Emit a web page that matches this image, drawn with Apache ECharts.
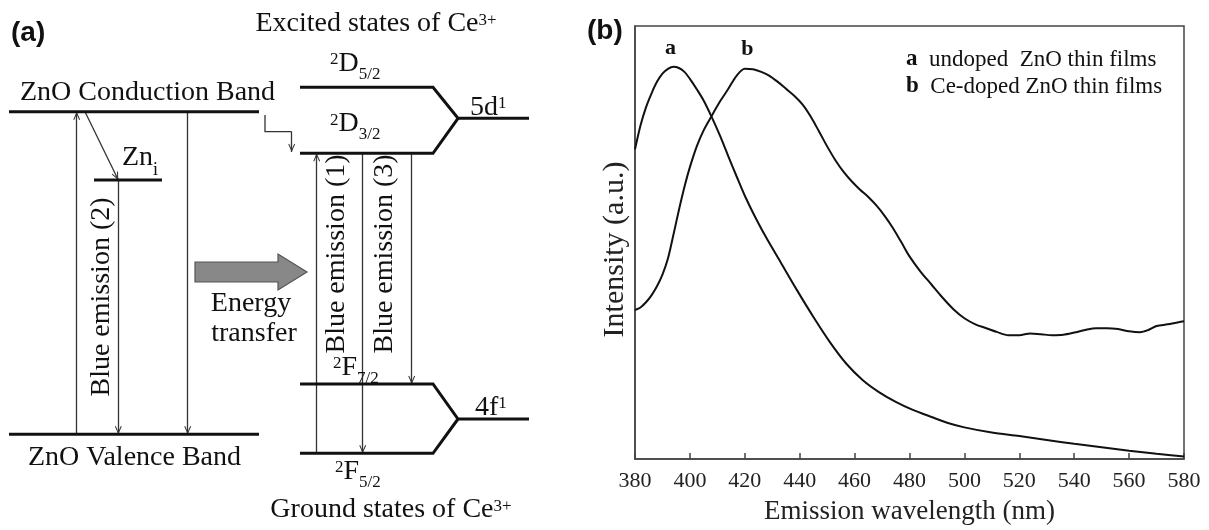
<!DOCTYPE html>
<html>
<head>
<meta charset="utf-8">
<script src="https://cdn.jsdelivr.net/npm/echarts@6/dist/echarts.min.js"></script>
<style>
html,body{margin:0;padding:0;background:#fff;}
#chart{width:1209px;height:530px;}
</style>
</head>
<body>
<div id="chart"></div>
<script>
// ---------------- Panel (b): PL spectra ----------------
const xTickValues = [380, 400, 420, 440, 460, 480, 500, 520, 540, 560, 580];
const seriesNames = ['a', 'b'];
const legendDescriptions = ['undoped  ZnO thin films', 'Ce-doped ZnO thin films'];

// a: undoped ZnO thin films  [wavelength nm, intensity a.u.]
const undopedZnO = [
  [380,71.5],[382,77.0],[384,81.2],[386,84.4],[388,87.1],[390,89.0],[392,90.1],[394,90.6],
  [396,90.3],[398,89.4],[400,87.8],[402.5,85.4],[405,82.8],[408,78.9],[411,74.6],[414,69.9],
  [417,65.3],[420,60.8],[424,55.6],[428,50.9],[433,45.5],[439,39.0],[445,32.8],[451,27.0],
  [457,22.0],[463,18.2],[469,15.4],[475,13.2],[481,11.4],[488,9.7],[494,8.3],[500,7.3],
  [510,6.1],[520,5.3],[530,4.4],[540,3.5],[550,2.7],[560,1.9],[570,1.2],[580,0.6]
];
// b: Ce-doped ZnO thin films
const ceDopedZnO = [
  [380,34.4],[382,35.0],[384,36.2],[386,37.8],[388,39.9],[390,42.6],[392,46.3],[394,51.8],
  [396,57.5],[398,62.8],[400,67.4],[402.5,72.2],[405,75.9],[408,79.3],[411,82.6],[414,85.5],
  [417,88.5],[420,90.1],[423,90.0],[426,89.4],[429,88.5],[432,87.1],[435,85.5],[438,83.9],
  [441,81.9],[444,79.1],[447,75.7],[450,72.2],[453,69.0],[456,66.3],[459,64.1],[462,62.2],
  [465,60.5],[468,58.5],[471,56.1],[474,53.3],[477,50.1],[480,46.8],[484,43.3],[488,40.3],
  [492,37.3],[496,34.6],[500,32.5],[504,31.1],[508,30.2],[512,29.3],[516,28.6],[520,28.6],
  [524,29.0],[528,28.8],[532,28.6],[536,28.7],[540,29.2],[544,29.8],[548,30.2],[552,30.2],
  [556,30.0],[560,29.5],[564,29.3],[567,29.8],[570,30.7],[574,31.1],[578,31.6],[580,31.8]
];
const peakA = [394, 90.6];
const peakB = [420, 90.1];

// ---------------- Panel (a): energy-level diagram (diagram units) ----------------
const energyLevels = [
  [[9,111.7],[259,111.7]],                               // ZnO conduction band
  [[9,434.3],[259,434.3]],                               // ZnO valence band
  [[94,180],[162,180]],                                  // Zn_i
  [[300,87.3],[433,87.3],[458,118.3],[529,118.3]],       // 2D5/2 -> 5d1
  [[300,153.3],[433,153.3],[458,118.3]],                 // 2D3/2
  [[300,384],[433,384],[458,419],[529,419]],             // 2F7/2 -> 4f1
  [[300,453.3],[433,453.3],[458,419]]                    // 2F5/2
];
const transitions = [
  [[76.7,434.3],[76.7,111.7]],
  [[187.7,111.7],[187.7,434.3]],
  [[85,111.7],[118.3,180]],
  [[118.3,180],[118.3,434.3]],
  [[291.7,131.7],[291.7,152]],
  [[316.7,453.3],[316.7,153.3]],
  [[362.7,153.3],[362.7,453.3]],
  [[411.7,153.3],[411.7,384]]
];
const connectors = [
  [[265,115],[265,131.7],[291.7,131.7]]
];
const transferArrow = [[195,262],[278,262],[278,254],[307,272],[278,290],[278,282],[195,282]];

const SERIF = '"Liberation Serif","Times New Roman","DejaVu Serif",serif';
const SANS = '"Liberation Sans",Arial,sans-serif';
const INK = '#111';

// arrow-head path with the tip at the centre of its box
const ARROW = 'path://M0,0 L0.01,0 L0,0.01 Z M20,20 L19.99,20 L20,19.99 Z M10,10 L13.8,18.6 L12.8,19.2 L10,12.8 L7.2,19.2 L6.2,18.6 Z';

const rich = {
  m:   {fontSize: 28, fontFamily: SERIF, fill: INK, color: INK},
  sup: {fontSize: 17, fontFamily: SERIF, fill: INK, color: INK, padding: [0,0,7,0]},
  sub: {fontSize: 17, fontFamily: SERIF, fill: INK, color: INK, padding: [22,0,0,0]},
  subi:{fontSize: 18, fontFamily: SERIF, fill: INK, color: INK, padding: [24,0,0,0]}
};
function txt(x, y, text, opt) {
  opt = opt || {};
  return {
    type: 'text', x: x, y: y, rotation: opt.rotation || 0, z: 50,
    style: {
      text: text, rich: rich,
      fontSize: opt.fontSize || 28, fontFamily: opt.fontFamily || SERIF,
      fontWeight: opt.fontWeight || 'normal', fill: INK,
      align: opt.align || 'left', verticalAlign: 'middle',
      textAlign: opt.align || 'left', textVerticalAlign: 'middle'
    }
  };
}

const graphics = [
  txt(11, 33, '(a)', {fontFamily: SANS, fontWeight: 'bold', fontSize: 28}),
  txt(587, 31, '(b)', {fontFamily: SANS, fontWeight: 'bold', fontSize: 28}),
  txt(376, 24, '{m|Excited states of Ce}{sup|3+}', {align: 'center'}),
  txt(20, 92.7, 'ZnO Conduction Band'),
  txt(28, 458, 'ZnO Valence Band'),
  txt(122, 158, '{m|Zn}{subi|i}'),
  txt(102, 297, 'Blue emission (2)', {align: 'center', rotation: Math.PI / 2}),
  txt(251, 304, 'Energy', {align: 'center'}),
  txt(254, 334, 'transfer', {align: 'center'}),
  txt(330, 63.5, '{sup|2}{m|D}{sub|5/2}'),
  txt(330, 124, '{sup|2}{m|D}{sub|3/2}'),
  txt(470, 107.5, '{m|5d}{sup|1}'),
  txt(337, 254, 'Blue emission (1)', {align: 'center', rotation: Math.PI / 2}),
  txt(385, 254, 'Blue emission (3)', {align: 'center', rotation: Math.PI / 2}),
  txt(333, 367.5, '{sup|2}{m|F}{sub|7/2}'),
  txt(475, 407.5, '{m|4f}{sup|1}'),
  txt(335, 471.5, '{sup|2}{m|F}{sub|5/2}'),
  txt(391, 510, '{m|Ground states of Ce}{sup|3+}', {align: 'center'})
];

const chart = echarts.init(document.getElementById('chart'), null, {renderer: 'canvas'});

const peakLabel = (coord, name, offset) => ({
  symbol: 'circle', symbolSize: 1, silent: true,
  itemStyle: {color: 'rgba(0,0,0,0)'},
  label: {show: true, position: 'inside', offset: offset, formatter: name,
    fontFamily: SERIF, fontWeight: 'bold', fontSize: 22, color: INK},
  data: [{coord: coord}]
});

chart.setOption({
  animation: false,
  backgroundColor: '#fff',
  graphic: graphics,
  grid: [
    {left: 0, top: 0, width: 580, height: 530, show: false},
    {left: 635, top: 26, right: 25, bottom: 68.3, show: true, borderColor: '#444', borderWidth: 1.5, backgroundColor: 'transparent'}
  ],
  xAxis: [
    {gridIndex: 0, type: 'value', min: 0, max: 580, show: false},
    {gridIndex: 1, type: 'value', min: 380, max: 580, interval: 20,
      axisLine: {show: true, lineStyle: {color: '#444', width: 1.5}},
      axisTick: {show: true, inside: true, length: 6, lineStyle: {color: '#444', width: 1.5}},
      axisLabel: {margin: 11, fontFamily: SERIF, fontSize: 22, color: '#222',
        customValues: xTickValues},
      splitLine: {show: false},
      name: 'Emission wavelength (nm)', nameLocation: 'middle', nameGap: 39,
      nameTextStyle: {fontFamily: SERIF, fontSize: 27, color: '#222'}}
  ],
  yAxis: [
    {gridIndex: 0, type: 'value', min: 0, max: 530, inverse: true, show: false},
    {gridIndex: 1, type: 'value', min: 0, max: 100,
      axisLine: {show: true, lineStyle: {color: '#444', width: 1.5}},
      axisTick: {show: false}, axisLabel: {show: false}, splitLine: {show: false},
      name: 'Intensity (a.u.)', nameLocation: 'middle', nameGap: 5, nameRotate: 90,
      nameTextStyle: {fontFamily: SERIF, fontSize: 30, color: '#222', padding: [0, 14, 0, 0]}}
  ],
  legend: {
    orient: 'vertical', left: 896, top: 43, itemWidth: 0, itemHeight: 0, itemGap: 4,
    icon: 'none', selectedMode: false,
    data: seriesNames,
    formatter: name => '{k|' + name + '}  ' + legendDescriptions[seriesNames.indexOf(name)],
    textStyle: {fontFamily: SERIF, fontSize: 23, color: INK,
      rich: {k: {fontFamily: SERIF, fontSize: 23, fontWeight: 'bold', color: INK}}}
  },
  series: [
    // panel (b)
    {name: seriesNames[0], type: 'line', xAxisIndex: 1, yAxisIndex: 1, data: undopedZnO,
      showSymbol: false, smooth: 0.3, lineStyle: {color: INK, width: 2}, itemStyle: {color: INK},
      markPoint: peakLabel(peakA, 'a', [-3, -18])},
    {name: seriesNames[1], type: 'line', xAxisIndex: 1, yAxisIndex: 1, data: ceDopedZnO,
      showSymbol: false, smooth: 0.3, lineStyle: {color: INK, width: 2}, itemStyle: {color: INK},
      markPoint: peakLabel(peakB, 'b', [2.5, -20])},
    // panel (a)
    {type: 'custom', xAxisIndex: 0, yAxisIndex: 0, data: [0], silent: true, z: 3,
      renderItem: (params, api) => ({
        type: 'polygon',
        shape: {points: transferArrow.map(p => api.coord(p))},
        style: {fill: '#888', stroke: '#555', lineWidth: 1.2}
      })},
    {type: 'lines', coordinateSystem: 'cartesian2d', xAxisIndex: 0, yAxisIndex: 0, silent: true, z: 4,
      symbol: ['none', ARROW], symbolSize: 18,
      lineStyle: {color: '#333', width: 1.3, opacity: 1},
      data: transitions.map(c => ({coords: c}))},
    {type: 'lines', coordinateSystem: 'cartesian2d', xAxisIndex: 0, yAxisIndex: 0, silent: true, z: 4,
      polyline: true, lineStyle: {color: '#333', width: 1.3, opacity: 1},
      data: connectors.map(c => ({coords: c}))},
    {type: 'lines', coordinateSystem: 'cartesian2d', xAxisIndex: 0, yAxisIndex: 0, silent: true, z: 5,
      polyline: true, lineStyle: {color: INK, width: 3, opacity: 1, join: 'miter'},
      data: energyLevels.map(c => ({coords: c}))}
  ]
});
</script>
</body>
</html>
